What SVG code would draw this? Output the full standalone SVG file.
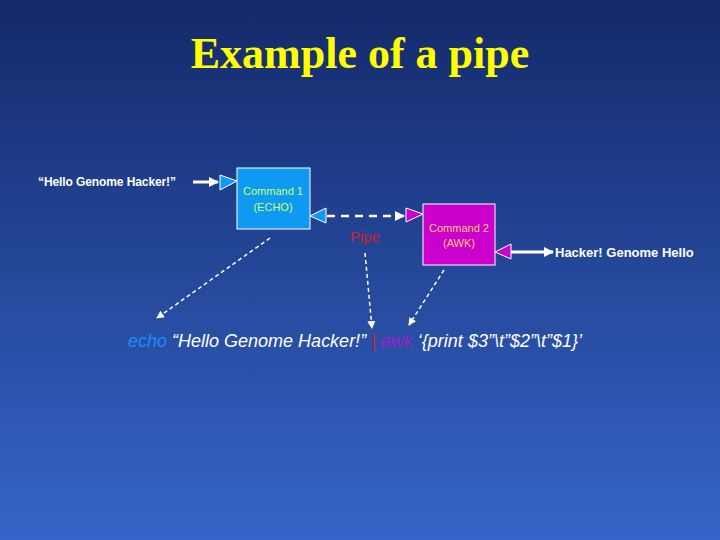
<svg xmlns="http://www.w3.org/2000/svg" width="720" height="540" viewBox="0 0 720 540">
<defs>
<linearGradient id="bg" x1="0" y1="0" x2="0" y2="1"><stop offset="0" stop-color="#14296a"/><stop offset="1" stop-color="#3565c8"/></linearGradient>
<marker id="ah" markerWidth="8" markerHeight="8" refX="7" refY="4" orient="auto" markerUnits="userSpaceOnUse"><path d="M0,0 L8,4 L0,8 Z" fill="#fff"/></marker>
<marker id="ahs" markerWidth="10" markerHeight="10" refX="9" refY="5" orient="auto" markerUnits="userSpaceOnUse"><path d="M0,0 L10,5 L0,10 Z" fill="#fff"/></marker>
</defs>
<style>
.t{font-family:"Liberation Sans",Arial,sans-serif}
.box{stroke:#fff;stroke-width:1}
.dl{stroke:#fff;stroke-width:1.5;stroke-dasharray:4,3;fill:none}
.sl{stroke:#fff;stroke-width:3;fill:none}
</style>
<rect width="720" height="540" fill="url(#bg)"/>
<text x="360" y="68" text-anchor="middle" font-family="Liberation Serif,serif" font-weight="bold" font-size="44" fill="#ffff00">Example of a pipe</text>
<text class="t" x="38" y="186" font-size="12" font-weight="bold" fill="#fff" textLength="138">“Hello Genome Hacker!”</text>
<g id="cmd1">
<rect class="box" x="237" y="168" width="73" height="61" fill="#0d9af0"/>
<path class="box" d="M220,175 L237,181 L220,190 Z" fill="#0d9af0"/>
<path class="box" d="M326,208 L310,216 L326,223 Z" fill="#0d9af0"/>
<text class="t" x="273" y="195" font-size="11" fill="#ccff66" text-anchor="middle">Command 1</text>
<text class="t" x="273" y="211" font-size="11" fill="#ccff66" text-anchor="middle">(ECHO)</text>
</g>
<g id="cmd2">
<rect class="box" x="423" y="204" width="72" height="61" fill="#cc00cc"/>
<path class="box" d="M406,208 L423,214 L406,222 Z" fill="#cc00cc"/>
<path class="box" d="M511,244 L495,252 L511,259 Z" fill="#cc00cc"/>
<text class="t" x="459" y="232" font-size="11" fill="#ffcc66" text-anchor="middle">Command 2</text>
<text class="t" x="459" y="247" font-size="11" fill="#ffcc66" text-anchor="middle">(AWK)</text>
</g>
<text class="t" x="365" y="242" font-size="15" fill="#cc1f2e" text-anchor="middle">Pipe</text>
<text class="t" x="555" y="257" font-size="13" font-weight="bold" fill="#fff">Hacker! Genome Hello</text>
<g id="connectors">
<line class="sl" x1="193" y1="182" x2="218" y2="182" marker-end="url(#ahs)"/>
<line class="sl" x1="511" y1="252" x2="553" y2="252" marker-end="url(#ahs)"/>
<line x1="327" y1="216" x2="404" y2="216" stroke="#fff" stroke-width="2.5" stroke-dasharray="8,6" marker-end="url(#ahs)"/>
<line class="dl" x1="270" y1="238" x2="157" y2="318" marker-end="url(#ah)"/>
<line class="dl" x1="365" y1="253" x2="372" y2="328" marker-end="url(#ah)"/>
<line class="dl" x1="444" y1="270" x2="409" y2="325" marker-end="url(#ah)"/>
</g>
<text class="t" x="128" y="347" font-size="18" font-style="italic" fill="#fff" textLength="454"><tspan fill="#1a8cff">echo</tspan> “Hello Genome Hacker!” <tspan fill="#cc1f2e">|</tspan> <tspan fill="#9922cc">awk</tspan> ‘{print $3”\t”$2”\t”$1}’</text>
</svg>
